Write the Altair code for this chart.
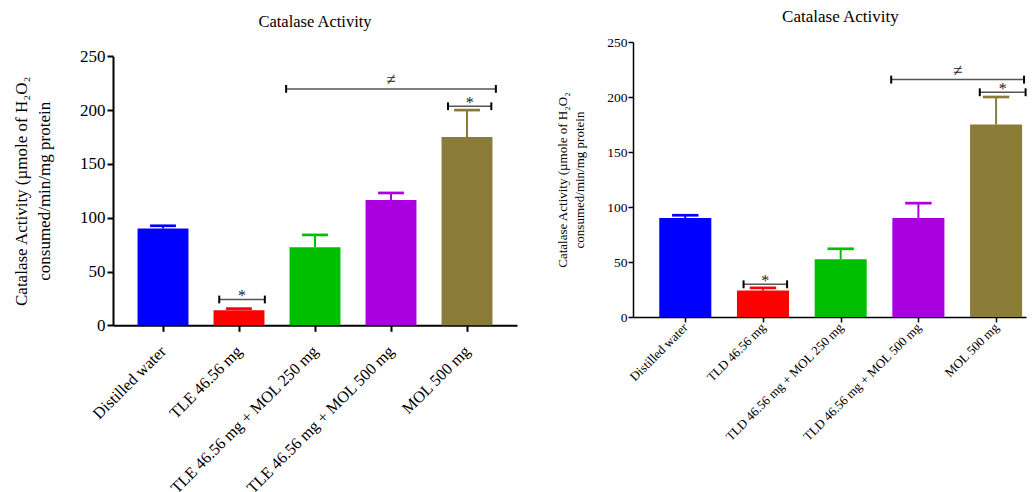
import json
import altair as alt
import pandas as pd

FONT = "Liberation Serif"

# ---- data -------------------------------------------------------------
groups_left = ["Distilled water", "TLE 46.56 mg", "TLE 46.56 mg + MOL 250 mg",
               "TLE 46.56 mg + MOL 500 mg", "MOL 500 mg"]
groups_right = ["Distilled water", "TLD 46.56 mg", "TLD 46.56 mg + MOL 250 mg",
                "TLD 46.56 mg + MOL 500 mg", "MOL 500 mg"]
mean_left = [90, 14, 72.5, 116.5, 175]
upper_left = [92.5, 15.5, 84, 123, 200]
mean_right = [90, 24, 52.5, 90, 175]
upper_right = [92.5, 26.5, 62, 103.5, 200]
bar_colors = ["#0000ff", "#ff0000", "#00bf00", "#aa00e0", "#8b7b38"]

# significance brackets (x in group-index units, y in data units)
br_left_start = [0.74, 1.62, 3.75]
br_left_end = [1.34, 4.38, 4.32]
br_left_y = [24, 219.7, 203.6]
br_left_label = ["*", "≠", "*"]
br_right_start = [0.75, 2.65, 3.79]
br_right_end = [1.31, 4.36, 4.38]
br_right_y = [29.7, 215.8, 204.3]
br_right_label = ["*", "≠", "*"]

title_text = "Catalase Activity"
y_title = ["Catalase Activity (µmole of H₂O₂", "consumed/min/mg protein"]
y_ticks = [0, 50, 100, 150, 200, 250]


def panel(groups, means, uppers, bs, be, by, bl, *, width, height, y_range, domain,
          fs_xlab, fs_ylab, fs_ytitle, fs_title, ytitle_x, ytitle_lh,
          axis_w, tick_size, ylab_pad, xlab_pad, title_x, title_y,
          top_rule_y, left_rule_x, err_w):
    df = pd.DataFrame({"group": groups, "pos": list(range(len(groups))),
                       "mean": means, "upper": uppers, "c": bar_colors})
    br = pd.DataFrame({"x1": bs, "x2": be, "y": by, "label": bl})
    xs = alt.Scale(domain=domain, nice=False, zero=False)
    ys = alt.Scale(domain=[0, 250], nice=False, zero=True, range=y_range)
    col = alt.Color("c:N", scale=None, legend=None)
    label_expr = json.dumps(groups, ensure_ascii=False) + "[datum.value]"

    x_axis = alt.Axis(values=list(range(len(groups))), labelExpr=label_expr, title=None,
                      labelAngle=-45, labelAlign="right", labelBaseline="middle",
                      labelFont=FONT, labelFontSize=fs_xlab, labelColor="#000",
                      labelPadding=xlab_pad, labelOverlap=False, labelFlush=False,
                      labelBound=False, labelLimit=0, domainColor="#000", domainWidth=axis_w,
                      tickColor="#000", tickWidth=axis_w, tickSize=tick_size, grid=False)
    y_axis = alt.Axis(values=y_ticks, title=y_title, titleFont=FONT, titleFontSize=fs_ytitle,
                      titleFontWeight="normal", titleColor="#000", titleX=ytitle_x,
                      titleY=(y_range[0] + y_range[1]) / 2, titleAngle=270, titleAlign="center",
                      titleBaseline="alphabetic", titleLineHeight=ytitle_lh,
                      labelFont=FONT, labelFontSize=fs_ylab, labelColor="#000",
                      labelPadding=ylab_pad, labelFlush=False, domainColor="#000",
                      domainWidth=axis_w, tickColor="#000", tickWidth=axis_w,
                      tickSize=tick_size, grid=False)

    def X(f):
        return alt.X(f, scale=xs, axis=x_axis)

    def Y(f):
        return alt.Y(f, scale=ys, axis=y_axis)

    base = alt.Chart(df)
    bars = base.transform_calculate(lo="datum.pos - 0.335", hi="datum.pos + 0.335").mark_rect().encode(
        x=X("lo:Q"), x2="hi:Q", y=Y("mean:Q"), y2=alt.datum(0), color=col)
    stems = base.mark_rule(strokeWidth=err_w).encode(
        x=X("pos:Q"), y=Y("mean:Q"), y2="upper:Q", color=col)
    caps = base.transform_calculate(cl="datum.pos - 0.17", cr="datum.pos + 0.17").mark_rule(
        strokeWidth=err_w + 0.7).encode(x=X("cl:Q"), x2="cr:Q", y=Y("upper:Q"), color=col)

    bbase = alt.Chart(br)
    blines = bbase.mark_rule(color="#555", strokeWidth=1.5).encode(
        x=X("x1:Q"), x2="x2:Q", y=Y("y:Q"))
    bcaps = bbase.transform_fold(["x1", "x2"], as_=["end", "xe"]).transform_calculate(
        ylo="datum.y - 3.6", yhi="datum.y + 3.6").mark_rule(color="#000", strokeWidth=2).encode(
        x=X("xe:Q"), y=Y("ylo:Q"), y2="yhi:Q")
    btext = bbase.transform_calculate(xm="(datum.x1 + datum.x2) / 2")
    stars = btext.transform_filter("datum.label == '*'").mark_text(
        font=FONT, fontSize=16, fill="#222", baseline="alphabetic", dy=2).encode(
        x=X("xm:Q"), y=Y("y:Q"), text="label:N")
    neqs = btext.transform_filter("datum.label != '*'").mark_text(
        font=FONT, fontSize=17, fill="#222", baseline="alphabetic", dy=-4).encode(
        x=X("xm:Q"), y=Y("y:Q"), text="label:N")

    one = pd.DataFrame({"k": [0]})
    title = alt.Chart(one).mark_text(font=FONT, fontSize=fs_title, fill="#000",
                                     baseline="alphabetic", align="center").encode(
        x=alt.value(title_x), y=alt.value(title_y), text=alt.value(title_text))
    anchor = alt.Chart(one).mark_rule(opacity=0, strokeWidth=1).encode(
        x=alt.value(left_rule_x), x2=alt.value(left_rule_x + 1),
        y=alt.value(top_rule_y), y2=alt.value(top_rule_y))

    return alt.layer(bars, stems, caps, blines, bcaps, stars, neqs, title, anchor).properties(
        width=width, height=height)


left = panel(groups_left, mean_left, upper_left, br_left_start, br_left_end, br_left_y,
             br_left_label, width=404, height=283.3, y_range=[283.3, 14.3],
             domain=[-0.658, 4.658],
             fs_xlab=16.2, fs_ylab=17, fs_ytitle=17, fs_title=16.5, ytitle_x=-87, ytitle_lh=23,
             axis_w=2, tick_size=6, ylab_pad=2, xlab_pad=17, title_x=202, title_y=-14.7,
             top_rule_y=-33.7, left_rule_x=-105, err_w=2)
right = panel(groups_right, mean_right, upper_right, br_right_start, br_right_end, br_right_y,
              br_right_label, width=393, height=275, y_range=[275, 0],
              domain=[-0.673, 4.385],
              fs_xlab=12.8, fs_ylab=13.5, fs_ytitle=13, fs_title=17, ytitle_x=-67, ytitle_lh=17,
              axis_w=1.5, tick_size=5, ylab_pad=1, xlab_pad=3, title_x=207.4, title_y=-19.7,
              top_rule_y=-33.7, left_rule_x=-80, err_w=2)

chart = alt.hconcat(left, right, spacing=36).properties(padding=0).configure_view(stroke=None)
chart.save("out.html", embed_options={"renderer": "svg", "actions": False})
